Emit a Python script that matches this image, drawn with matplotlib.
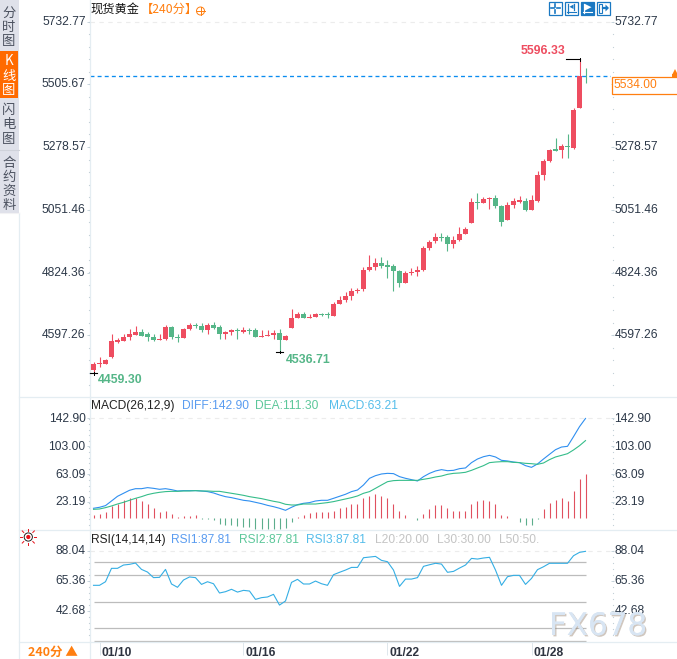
import matplotlib
matplotlib.use("Agg")
import matplotlib.pyplot as plt
from matplotlib.patches import Rectangle, Circle, Polygon
from matplotlib.transforms import ScaledTranslation
import matplotlib.patheffects as pe

W, H = 677, 659
RED = '#ee4d60'
GREEN = '#55b688'
BAR_RED = '#e0505f'
BAR_GREEN = '#5cad8c'
ORANGE = '#ff7f10'
LINE = '#e4edf2'
TXT = '#2c3848'
CN = ['Noto Sans CJK SC', 'DejaVu Sans']

plt.rcParams['font.family'] = ['Liberation Sans', 'Noto Sans CJK SC', 'DejaVu Sans']

#candles, 240 min
opens = [4471.4, 4491.9, 4494.3, 4518.4, 4572.8, 4577.6, 4590.9, 4598.1, 4609, 4601.7,
         4590.9, 4581.2, 4582.4, 4628.3, 4590.9, 4587.2, 4619.8, 4634.3, 4630.7, 4616.2,
         4634.3, 4627.1, 4601.7, 4610.2, 4616.2, 4609, 4616.2, 4616.2, 4592.1, 4594.5,
         4599.3, 4605.3, 4580, 4624.6, 4659.6, 4674.1, 4659.6, 4663.3, 4674.1, 4672.9,
         4666.9, 4710.3, 4724.8, 4739.3, 4758.6, 4764.6, 4833.4, 4844.3, 4858.8, 4851.5,
         4847.9, 4829.8, 4786.4, 4822.6, 4826.2, 4833.4, 4913.1, 4938.4, 4952.9, 4952.9,
         4927.6, 4942, 4963.7, 5003.6, 5079.6, 5076, 5090.5, 5094.1, 5065.1, 5014.4,
         5068.7, 5079.6, 5083.2, 5050.6, 5084.4, 5177.3, 5228, 5271.4, 5267.8, 5282.3,
         5275, 5419.9, 5535.5]
highs = [4500.4, 4518.4, 4511.2, 4601.7, 4587.2, 4601.7, 4619.8, 4630.7, 4619.8, 4609,
         4601.7, 4601.7, 4634.3, 4630.7, 4601.7, 4623.4, 4641.5, 4641.5, 4641.5, 4641.5,
         4645.2, 4634.3, 4612.6, 4619.8, 4623.4, 4627.1, 4623.4, 4623.4, 4616.2, 4616.2,
         4616.2, 4619.8, 4598.1, 4692.2, 4681.4, 4681.4, 4674.1, 4677.7, 4677.7, 4681.4,
         4717.6, 4739.3, 4753.8, 4768.3, 4768.3, 4844.3, 4887.7, 4876.9, 4880.5, 4869.6,
         4855.2, 4833.4, 4829.8, 4840.7, 4847.9, 4920.3, 4942, 4967.4, 4967.4, 4960.1,
         4956.5, 4989.1, 4989.1, 5094.1, 5112.2, 5097.7, 5097.7, 5104.9, 5068.7, 5079.6,
         5094.1, 5101.3, 5094.1, 5104.9, 5191.8, 5235.2, 5271.4, 5311.3, 5289.5, 5325.7,
         5419.9, 5596.33, 5564.7]
lows = [4459.3, 4482.2, 4493.1, 4516, 4567.9, 4576.4, 4580, 4598.1, 4593.3, 4577.6,
        4577.6, 4580, 4580, 4583.6, 4574, 4587.2, 4616.2, 4623.4, 4609, 4601.7,
        4619.8, 4583.6, 4583.6, 4598.1, 4583.6, 4605.3, 4601.7, 4590.9, 4590.9, 4594.5,
        4583.6, 4536.71, 4580, 4623.4, 4659.6, 4659.6, 4658.4, 4663.3, 4666.9, 4659.6,
        4666.9, 4710.3, 4717.6, 4724.8, 4750.2, 4757.4, 4829.8, 4833.4, 4840.7, 4804.5,
        4757.4, 4771.9, 4786.4, 4815.3, 4811.7, 4829.8, 4905.8, 4931.2, 4938.4, 4902.2,
        4913.1, 4938.4, 4963.7, 5003.6, 5054.3, 5076, 5054.3, 5057.9, 4992.7, 5014.4,
        5057.9, 5076, 5047, 5050.6, 5080.8, 5159.2, 5224.4, 5264.2, 5238.8, 5238.8,
        5271.4, 5419.9, 5510.4]
closes = [4493.1, 4496.7, 4507.6, 4576.4, 4580, 4590.9, 4601.7, 4609, 4594.5, 4590.9,
          4580, 4583.6, 4627.1, 4590.9, 4587.2, 4619.8, 4634.3, 4630.7, 4616.2, 4634.3,
          4623.4, 4601.7, 4609, 4616.2, 4612.6, 4616.2, 4612.6, 4590.9, 4594.5, 4596.9,
          4605.3, 4580, 4594.5, 4659.6, 4674.1, 4659.6, 4663.3, 4674.1, 4669.3, 4670.5,
          4710.3, 4724.8, 4739.3, 4757.4, 4762.2, 4833.4, 4844.3, 4858.8, 4847.9, 4844.3,
          4829.8, 4786.4, 4822.6, 4826.2, 4833.4, 4913.1, 4934.8, 4952.9, 4949.3, 4927.6,
          4942, 4963.7, 4981.9, 5079.6, 5076, 5090.5, 5094.1, 5065.1, 5007.2, 5068.7,
          5083.2, 5086.8, 5050.6, 5086.8, 5177.3, 5228, 5267.8, 5264.2, 5282.3, 5278.7,
          5412.6, 5535, 5534]

diff = [14.6, 16, 18.4, 25, 31.7, 36, 40.3, 42.6, 42.6, 44.1,
        43.1, 41.7, 42.6, 41.2, 39.3, 39.8, 39.8, 39.8, 39.3, 38.4,
        36.5, 33.6, 31.2, 29.8, 27.9, 26, 25, 23.1, 21.2, 18.8,
        16.9, 14.6, 11.7, 16, 19.8, 21.7, 22.7, 25, 26, 26,
        28.8, 31.7, 34.6, 38.4, 40.7, 47.9, 57.4, 61.2, 63.6, 64.5,
        64.1, 59.8, 57.4, 55.5, 53.6, 59.8, 64.5, 67.9, 69.8, 68.3,
        68.8, 71.2, 72.2, 79.8, 85, 88.3, 90.2, 87.9, 83.1, 82.2,
        80.7, 79.8, 75.5, 73.1, 77.9, 85, 91.7, 98.3, 102.1, 103.1,
        116.9, 131.2, 142.9]
dea = [13.1, 13.6, 15.5, 17.9, 20.7, 23.1, 26, 28.8, 31.2, 34.1,
       36, 37.4, 38.4, 38.8, 38.8, 39.3, 39.3, 39.8, 39.3, 39.3,
       38.8, 38.8, 37.4, 36, 34.6, 33.1, 31.2, 29.8, 28.4, 26.5,
       24.6, 23.1, 20.3, 19.3, 19.3, 20.7, 20.7, 20.7, 21.7, 22.7,
       24.1, 26, 27.9, 29.8, 32.2, 36, 38.4, 43.1, 47.9, 52.6,
       54.1, 54.5, 54.5, 54.5, 54.5, 56, 57.4, 59.3, 60.7, 63.1,
       64.5, 65, 66, 68.8, 72.2, 75.5, 79.8, 80.7, 81.2, 81.2,
       80.2, 79.8, 78.8, 78.3, 77.4, 79.3, 84.1, 87.9, 90.2, 92.6,
       97.9, 104, 111.3]
macd = [4.3, 7.1, 9, 17.6, 21.4, 27.1, 28.6, 29.5, 24.3, 20,
        14.3, 9.5, 11.4, 7.1, 1.9, 2.9, 3.8, 4.3, -1.4, -1.4,
        -2.4, -7.6, -10, -10, -11.4, -12.4, -12.4, -14.3, -14.3, -14.3,
        -14.3, -14.3, -13.3, -5.7, 2.4, 5.2, 7.6, 9, 9, 8.6,
        11.4, 14.3, 17.1, 20, 21.4, 28.6, 32.8, 35.7, 32.8, 28.6,
        21.4, 10, 5.7, 1.4, -1.9, 7.1, 12.9, 18.6, 18.6, 14.3,
        11.4, 11.4, 11.4, 21.4, 25.2, 27.1, 25.7, 20, 5.7, 2.9,
        1.4, -4.3, -10, -10, -1.4, 12.9, 22.8, 27.1, 28.6, 25.7,
        38.6, 57.1, 63.21]
rsi = [62.2, 62.2, 64.9, 75, 75, 77.5, 78, 79, 74.2, 72.2,
       68, 68.2, 74.2, 63.2, 60.7, 66.2, 68.5, 68, 62.9, 64.9,
       63.4, 56.4, 57.4, 59.2, 57.1, 58.4, 57.9, 51.6, 52.9, 53.4,
       55.4, 47.3, 50.4, 64.4, 66.7, 63.2, 63.2, 65.4, 63.4, 62.2,
       70.2, 72, 73.7, 75.7, 75.7, 83, 83.5, 84, 81, 80,
       73.7, 61.4, 66.9, 66.9, 68, 76.5, 77.7, 78.8, 78.2, 72,
       72.7, 75.2, 77.5, 82.5, 82, 82.8, 83.3, 73.7, 62.2, 68.7,
       69.7, 69.7, 62.9, 67.4, 74, 76.2, 78.8, 78.8, 78.8, 78.8,
       84.5, 87.04, 87.81]

price_ticks = [5732.77, 5505.67, 5278.57, 5051.46, 4824.36, 4597.26]
macd_ticks = [142.90, 103.00, 63.09, 23.19]
rsi_ticks = [88.04, 65.36, 42.68]
rsi_levels = [20, 30, 50, 70, 80]
date_idx = [1, 25, 49, 73]
date_labels = ['01/10', '01/16', '01/22', '01/28']
last_price = 5534.00

LEFT, RIGHT = 89.5, 610.5

def panel(top, bottom, ylim):
    #axes placed in screen pixels, one candle slot is 6 px
    ax = fig.add_axes([LEFT/W, 1 - bottom/H, (RIGHT - LEFT)/W, (bottom - top)/H])
    ax.set_xlim((LEFT - 93.5)/6, (RIGHT - 93.5)/6)
    ax.set_ylim(*ylim)
    ax.patch.set_alpha(0)
    for s in ax.spines.values():
        s.set_visible(False)
    ax.spines['left'].set_visible(True)
    ax.spines['left'].set_color(LINE)
    ax.spines['left'].set_linewidth(0.9)
    ax.set_xticks([])
    ax.tick_params(axis='y', left=True, right=True, labelleft=True, labelright=True,
                   length=2.2, width=0.7, color='#c9d6de', pad=0.6, labelsize=8.64, labelcolor=TXT)
    return ax

def set_ticks(ax, ticks, lift=1.3):
    ax.set_yticks(ticks)
    ax.set_yticklabels([f'{t:.2f}' for t in ticks])
    ax.hlines(ticks[0], ax.get_xlim()[0], ax.get_xlim()[1], color='#ececec', lw=0.8, ls=(0, (4, 4)))
    #this list holds the left and the right labels
    up = ScaledTranslation(0, lift/100, fig.dpi_scale_trans)
    for lab in ax.get_yticklabels(which='major'):
        lab.set_transform(lab.get_transform() + up)

fig = plt.figure(figsize=(W/100, H/100), dpi=100, facecolor='white')

#price panel
ax = panel(0, 397, (4373.7, 5810.8))
set_ticks(ax, price_ticks)
#the last price box sits over this right label
ax.yaxis.get_major_ticks()[1].label2.set_visible(False)
xs = list(range(len(opens)))
colors = [RED if c >= o else GREEN for o, c in zip(opens, closes)]
ax.vlines(xs, lows, highs, colors=colors, lw=0.8, zorder=2)
ax.bar(xs, [max(abs(c - o), 3.0) for o, c in zip(opens, closes)],
       bottom=[min(o, c) for o, c in zip(opens, closes)],
       width=0.82, color=colors, linewidth=0, zorder=3)
ax.axhline(last_price, color='#0a8cf0', lw=0.95, ls=(0, (3, 2.4)), zorder=1)

i_hi = highs.index(max(highs))
i_lo1 = 0
i_lo2 = lows.index(min(lows[10:]))
ax.annotate(f'{highs[i_hi]:.2f}', (i_hi, highs[i_hi]), xytext=(-14, 8), textcoords='offset pixels',
            ha='right', va='center', color=RED, fontsize=8.8, fontweight='bold')
ax.annotate(f'{lows[i_lo1]:.2f}', (i_lo1, lows[i_lo1]), xytext=(4.5, -7), textcoords='offset pixels',
            ha='left', va='center', color=GREEN, fontsize=8.8, fontweight='bold')
ax.annotate(f'{lows[i_lo2]:.2f}', (i_lo2, lows[i_lo2]), xytext=(6, -8), textcoords='offset pixels',
            ha='left', va='center', color=GREEN, fontsize=8.8, fontweight='bold')
#small black markers at the extremes
ax.plot([i_hi - 2.2, i_hi], [highs[i_hi]]*2, color='black', lw=0.8, zorder=4)
ax.plot([i_hi, i_hi], [highs[i_hi] - 5, highs[i_hi] + 5], color='black', lw=0.7, zorder=4)
for i in (i_lo1, i_lo2):
    ax.plot([i - 0.55, i + 0.55], [lows[i]]*2, color='black', lw=0.8, zorder=4)
    ax.plot([i, i], [lows[i] - 5, lows[i] + 5], color='black', lw=0.7, zorder=4)

#macd panel
ax2 = panel(397, 530, (-16.43, 173.57))
set_ticks(ax2, macd_ticks)
ax2.vlines(xs, 0, macd, colors=[BAR_RED if m >= 0 else BAR_GREEN for m in macd], lw=0.8)
ax2.plot(xs, diff, color='#2f8ff0', lw=0.8)
ax2.plot(xs, dea, color='#35bd8a', lw=0.8)

#rsi panel
ax3 = panel(530, 642, (19.47, 103.9))
set_ticks(ax3, rsi_ticks)
ax3.hlines(rsi_levels, 0, len(rsi) - 1, color='#bcbcbc', lw=0.9)
ax3.plot(xs, rsi, color='#34aee4', lw=0.8)
ax3.set_xticks(date_idx)
ax3.set_xticklabels([''] * len(date_idx))
ax3.tick_params(axis='x', length=9, width=0.7, color='#dfe7ec', pad=0)
for i, lab in zip(date_idx, date_labels):
    ax3.annotate(lab, (i, 0), xycoords=ax3.get_xaxis_transform(), xytext=(2, -10.5),
                 textcoords='offset pixels', ha='left', va='center',
                 fontsize=8.64, fontweight='bold', color='#2e3440')

#chrome around the panels, drawn in screen pixels
ov = fig.add_axes([0, 0, 1, 1], zorder=10)
ov.set_xlim(0, W)
ov.set_ylim(H, 0)
ov.axis('off')
ov.patch.set_alpha(0)

ov.add_patch(Rectangle((0, 0), 18.5, 213, fc='#dfe1ea', ec='none'))
ov.add_patch(Rectangle((0, 51), 18, 46.5, fc='#ff6a00', ec='none'))
ov.plot([0, 18.5], [149.5, 149.5], color='#cfd2da', lw=0.8)
ov.plot([18.5, 18.5], [213, H], color=LINE, lw=0.9)
ov.plot([0, 18.5], [213, 213], color='#f2f2f4', lw=0.8)
side_tabs = [('分', 13), ('时', 27), ('图', 41), ('K', 61), ('线', 76), ('图', 90),
             ('闪', 110), ('电', 124), ('图', 139), ('合', 163), ('约', 177), ('资', 191), ('料', 205)]
for ch, y in side_tabs:
    on = 55 < y < 97
    ov.text(9, y, ch, ha='center', va='center', fontsize=9.6, family=CN,
            color='white' if on else '#4c5260')

for y, x0 in ((397, 18.5), (530, 18.5), (642, 18.5)):
    ov.plot([x0, W], [y, y], color=LINE, lw=0.9)
ov.plot([89.5, 89.5], [642, H], color=LINE, lw=0.9)

#minor axis dots
for x_dot, y0, y1 in ((88.5, 21.6, 396), (612.7, 21.6, 396), (88.5, 418.5, 528), (612.7, 418.5, 528),
                      (88.5, 551, 640), (612.7, 551, 640)):
    ys = []
    y = y0
    while y < y1:
        ys.append(y)
        y += 12.54 if y1 == 396 else 5.6 if y1 == 528 else 6
    ov.plot([x_dot]*len(ys), ys, ls='none', marker='s', ms=0.8, mew=0, color='#c4d0d8')

#header text
ov.text(90, 9.5, '现货黄金', fontsize=8.8, family=CN, color='#111111', va='center')
ov.text(141, 9.5, '【240分】', fontsize=8.8, family=CN, color=ORANGE, va='center')
ov.add_patch(Circle((200.5, 11), 4, fc='none', ec=ORANGE, lw=0.7))
ov.plot([196.5, 204.5], [11, 11], color=ORANGE, lw=0.7)
ov.plot([200.5, 200.5], [7, 15], color=ORANGE, lw=0.7)

#tool buttons
for k, x0 in enumerate((548, 564, 580, 596)):
    ov.add_patch(Rectangle((x0 + 0.5, 1.5), 13.5, 13.5, fc='#1a78c2' if k == 2 else 'white', ec='#1a78c2', lw=0.9))
    c = 'white' if k == 2 else '#1a78c2'
    if k == 0:
        ov.plot([x0 + 7.2]*2, [3.5, 6.5], color=c, lw=1.2)
        ov.plot([x0 + 7.2]*2, [9.5, 12.5], color=c, lw=1.2)
        ov.plot([x0 + 2.5, x0 + 5.5], [8, 8], color=c, lw=1.2)
        ov.plot([x0 + 9, x0 + 12], [8, 8], color=c, lw=1.2)
    elif k == 1:
        ov.plot([x0 + 4, x0 + 4], [3.5, 12.5], color=c, lw=0.9)
        ov.plot([x0 + 10, x0 + 10], [3.5, 10], color=c, lw=0.9)
        ov.plot([x0 + 3, x0 + 12], [12, 12], color=c, lw=0.8)
        ov.add_patch(Polygon([(x0 + 9.5, 4.5), (x0 + 9.5, 9), (x0 + 5.5, 6.8)], fc=c, ec='none'))
    elif k == 2:
        ov.plot([x0 + 3.5, x0 + 3.5], [3.5, 12.5], color=c, lw=0.9)
        ov.plot([x0 + 3, x0 + 12], [12, 12], color=c, lw=0.8)
        ov.add_patch(Polygon([(x0 + 5, 4), (x0 + 5, 10.5), (x0 + 11.5, 7.2)], fc=c, ec='none'))
    else:
        ov.add_patch(Rectangle((x0 + 3, 3.5), 3, 9, fc='none', ec=c, lw=0.8))
        ov.plot([x0 + 6.5, x0 + 10], [8, 8], color=c, lw=1.6)
        ov.add_patch(Polygon([(x0 + 9.5, 4.5), (x0 + 9.5, 11.5), (x0 + 13, 8)], fc=c, ec='none'))

#last price box
ov.add_patch(Rectangle((612, 76.5), 66, 17, fc='white', ec=ORANGE, lw=0.9, zorder=5))
ov.text(614, 85, f'{last_price:.2f}', color=ORANGE, fontsize=8.64, va='center', zorder=6)
ov.plot([674.5], [71.5], marker='^', ms=4.5, mew=0, color=ORANGE)
ov.add_patch(Rectangle((672, 73.5), 5, 3, fc=ORANGE, ec='none'))

#indicator legends
for x, s, c in ((91, 'MACD(26,12,9)', '#222222'), (182, 'DIFF:142.90', '#5a9cf0'),
                (255.5, 'DEA:111.30', '#5cc79a'), (329, 'MACD:63.21', '#55bdea')):
    ov.text(x, 406, s, color=c, fontsize=8.64, va='center')
for x, s, c in ((91, 'RSI(14,14,14)', '#222222'), (170.5, 'RSI1:87.81', '#5a9cf0'),
                (238.5, 'RSI2:87.81', '#5cc79a'), (306, 'RSI3:87.81', '#55bdea'),
                (374.7, 'L20:20.00', '#c4c4c4'), (436.7, 'L30:30.00', '#c4c4c4'), (498.7, 'L50:50.', '#c4c4c4')):
    ov.text(x, 540, s, color=c, fontsize=8.64, va='center')

#sun icon
ov.add_patch(Circle((28.3, 537), 4.1, fc='white', ec='#222222', lw=0.7))
ov.add_patch(Circle((28.3, 537), 2.1, fc='#e8101a', ec='none'))
for dx, dy in ((-6, 0), (6, 0), (0, -6), (0, 6), (-4.5, -4.5), (4.5, -4.5), (-4.5, 4.5), (4.5, 4.5)):
    ov.plot([28.3 + dx, 28.3 + dx*1.35], [537 + dy, 537 + dy*1.35], color='#e8101a', lw=0.7)

#period selector
ov.text(53, 652.5, '240分 ▲', color=ORANGE, fontsize=9, fontweight='bold', ha='center', va='center', family=CN)

#watermark
wm = ov.text(549, 635, 'FX678', fontsize=22.3, color='#d8e5f3', va='baseline', zorder=8, family='DejaVu Sans')
wm.set_path_effects([pe.withSimplePatchShadow(offset=(1, -1), shadow_rgbFace='#8a7460', alpha=0.4), pe.Normal()])

fig.savefig('out.png', dpi=100)
